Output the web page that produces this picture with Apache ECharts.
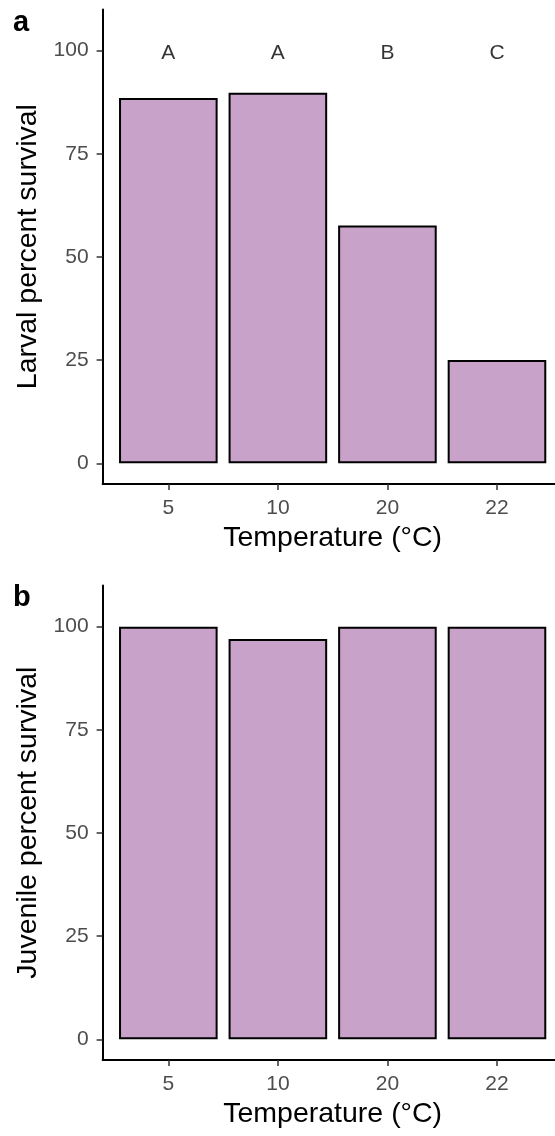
<!DOCTYPE html>
<html>
<head>
<meta charset="utf-8">
<script src="https://cdn.jsdelivr.net/npm/echarts@6/dist/echarts.min.js"></script>
<style>
  html, body { margin: 0; padding: 0; background: #fff; }
  #chart { width: 555px; height: 1136px; }
</style>
</head>
<body>
<div id="chart"></div>
<script>
// data
const temps = ['5', '10', '20', '22'];
const larval = [88.5, 89.8, 57.6, 25.0];
const juvenile = [100, 97.0, 100, 100];
const letters = ['A', 'A', 'B', 'C'];
const letterLevel = 100;
const yTicks = [0, 25, 50, 75, 100];
const xPos = temps.map((t, i) => i + 1);

const font = '"Liberation Sans", Arial, sans-serif';
const fill = '#C8A2C8';

function xAxisFor(gridIndex) {
  return {
    gridIndex: gridIndex,
    type: 'value',
    min: 0.4,
    max: 4.6,
    name: 'Temperature (°C)',
    nameLocation: 'middle',
    nameGap: 40,
    nameTextStyle: { fontFamily: font, fontSize: 28.5, color: '#000' },
    splitLine: { show: false },
    axisLine: { onZero: false, lineStyle: { color: '#000', width: 2 } },
    axisTick: { length: 6, customValues: xPos, lineStyle: { color: '#333', width: 1.5 } },
    axisLabel: {
      customValues: xPos,
      margin: 14,
      fontFamily: font,
      fontSize: 21,
      color: '#4D4D4D',
      formatter: v => temps[Math.round(v) - 1]
    }
  };
}

function yAxisFor(gridIndex, title) {
  return {
    gridIndex: gridIndex,
    type: 'value',
    min: -5,
    max: 110,
    name: title,
    nameLocation: 'middle',
    nameGap: 48,
    nameTextStyle: { fontFamily: font, fontSize: 28.5, color: '#000' },
    splitLine: { show: false },
    axisLine: { show: true, onZero: false, lineStyle: { color: '#000', width: 2 } },
    axisTick: { show: true, length: 6, customValues: yTicks, lineStyle: { color: '#333', width: 1.5 } },
    axisLabel: {
      customValues: yTicks,
      margin: 14,
      fontFamily: font,
      fontSize: 21,
      color: '#4D4D4D'
    }
  };
}

function barsFor(idx, values) {
  return {
    type: 'bar',
    xAxisIndex: idx,
    yAxisIndex: idx,
    barWidth: '90%',
    data: values.map((v, i) => [xPos[i], v]),
    itemStyle: { color: fill, borderColor: '#000', borderWidth: 2 },
    emphasis: { disabled: true },
    silent: true
  };
}

const chart = echarts.init(document.getElementById('chart'));
chart.setOption({
  animation: false,
  backgroundColor: '#fff',
  title: [
    { text: 'a', left: 8, top: 3, textStyle: { fontFamily: font, fontSize: 29, fontWeight: 'bold', color: '#000' } },
    { text: 'b', left: 8, top: 578, textStyle: { fontFamily: font, fontSize: 29, fontWeight: 'bold', color: '#000' } }
  ],
  grid: [
    { left: 102.6, right: -7.7, top: 9.4, bottom: 652.1, containLabel: false, outerBoundsMode: 'none' },
    { left: 102.6, right: -7.7, top: 585.4, bottom: 76.1, containLabel: false, outerBoundsMode: 'none' }
  ],
  xAxis: [xAxisFor(0), xAxisFor(1)],
  yAxis: [yAxisFor(0, 'Larval percent survival'), yAxisFor(1, 'Juvenile percent survival')],
  series: [
    barsFor(0, larval),
    barsFor(1, juvenile),
    {
      type: 'scatter',
      xAxisIndex: 0,
      yAxisIndex: 0,
      symbolSize: 1,
      itemStyle: { color: 'rgba(0,0,0,0)' },
      silent: true,
      data: letters.map((l, i) => [xPos[i], letterLevel]),
      label: {
        show: true,
        position: 'inside',
        offset: [0, 3],
        fontFamily: font,
        fontSize: 21,
        color: '#000',
        formatter: p => letters[p.dataIndex]
      }
    }
  ]
});
</script>
</body>
</html>
